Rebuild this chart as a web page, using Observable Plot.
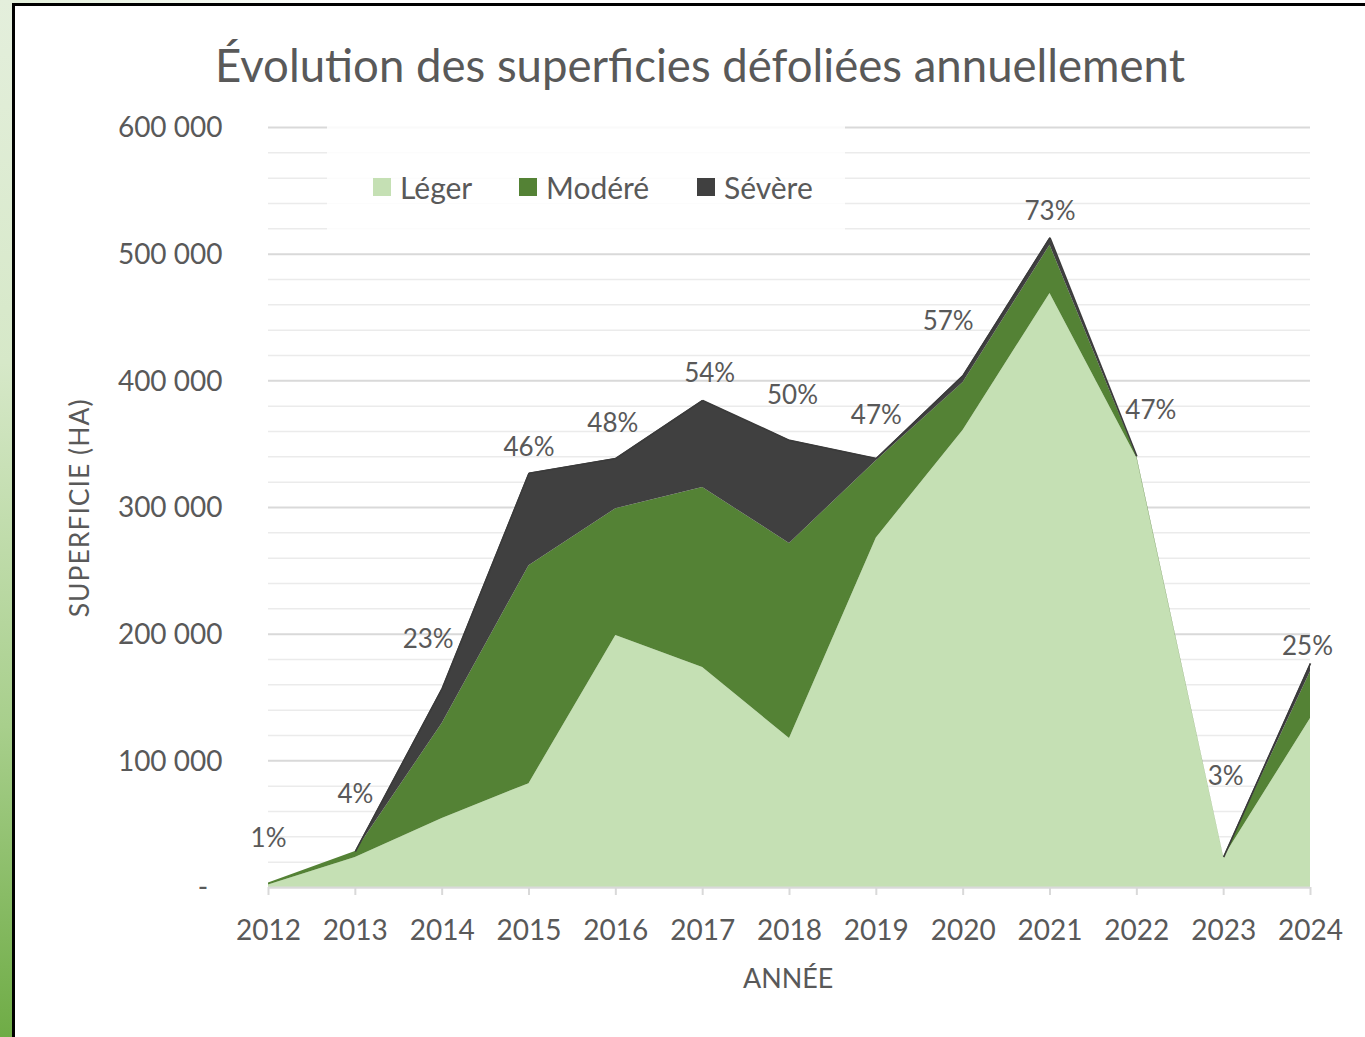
<!DOCTYPE html>
<html>
<head>
<meta charset="utf-8">
<script src="https://cdn.jsdelivr.net/npm/d3@7"></script>
<script src="https://cdn.jsdelivr.net/npm/@observablehq/plot@0.6"></script>
<style>
  body { margin: 0; background: #fff; }
  #wrap { position: relative; width: 1365px; height: 1037px; overflow: hidden; background: #fff;
          font-family: Lato, "Open Sans", sans-serif; color: #595959; }
  #strip { position: absolute; left: 0; top: 0; width: 12px; height: 1037px;
           background: linear-gradient(#e4efdc, #d6e8c8 35%, #a8cf8c 70%, #6fac46); }
  #topstrip { position: absolute; left: 0; top: 0; width: 1365px; height: 4px;
              background: linear-gradient(90deg, #e2efd9, #ffffff 25%); }
  #vline { position: absolute; left: 12px; top: 4px; width: 3px; height: 1033px; background: #000; }
  #hline { position: absolute; left: 12px; top: 3px; width: 1353px; height: 3px; background: #000; }
  #chart { position: absolute; left: 0; top: 0; }
  .lbl { position: absolute; white-space: nowrap; line-height: 1.2; }
  #legendbg { position: absolute; left: 327px; top: 125px; width: 518px; height: 112px; background: rgba(255,255,255,0.85); }
  .item { position: absolute; top: 172px; height: 30px; display: flex; align-items: center;
          font-size: 30px; line-height: 30px; white-space: nowrap; }
  .sw { width: 18px; height: 18px; margin-right: 9px; }
</style>
</head>
<body>
<div id="wrap">
  <div id="chart"></div>
  <div id="legendbg"></div>
  <div id="legend"></div>
  <div id="title" class="lbl">Évolution des superficies défoliées annuellement</div>
  <div id="ylabel" class="lbl">SUPERFICIE (HA)</div>
  <div id="xlabel" class="lbl">ANNÉE</div>
  <div id="topstrip"></div>
  <div id="strip"></div>
  <div id="hline"></div>
  <div id="vline"></div>
</div>
<script>
// ---- Data ----
const years   = [2012, 2013, 2014, 2015, 2016, 2017, 2018, 2019, 2020, 2021, 2022, 2023, 2024];
const leger   = [2000, 23700, 54500, 82000, 199000, 173700, 117600, 276000, 361000, 469000, 339000, 23700, 133400];
const modere  = [1500, 4700, 75000, 172000, 100000, 142100, 154000, 61000, 37700, 38000, 1500, 300, 37000];
const severe  = [0, 0, 27500, 73000, 39700, 68700, 81400, 1700, 5500, 6000, 0, 0, 6500];
const pctLabels = ["1%", "4%", "23%", "46%", "48%", "54%", "50%", "47%", "57%", "73%", "47%", "3%", "25%"];
const types   = ["Léger", "Modéré", "Sévère"];
const colors  = ["#c5e0b4", "#548235", "#404040"];
const yTicks  = [0, 100000, 200000, 300000, 400000, 500000, 600000];

// label nudges (px), style only
const labelDx = [0, 0, -14, 0, -3, 7, 3, 0, -15, 0, 14, 2, -3];
const labelDy = [-44, -57, -49, -26, -35, -27, -45, -43, -54, -26, -46, -80, -17];
// legend item left edges (px), style only
const legendLeft = [373, 519, 697];

// ---- Derived tables ----
const series = [leger, modere, severe];
const rows = [];
types.forEach((t, k) => years.forEach((y, i) => rows.push({year: y, type: t, value: series[k][i]})));
const totals = years.map((y, i) => ({year: y, total: leger[i] + modere[i] + severe[i], label: pctLabels[i], i}));
const segs = [];
for (let i = 0; i < years.length - 1; i++) {
  if (severe[i] > 0 || severe[i + 1] > 0) segs.push({x1: years[i], y1: totals[i].total, x2: years[i + 1], y2: totals[i + 1].total});
}
const minorTicks = d3.range(0, 600001, 20000).filter(v => v % 100000 !== 0);

const fmtY = d => d === 0 ? "-\u00a0\u00a0" : d3.format(",")(d).replace(/,/g, " ");

const chart = Plot.plot({
  width: 1365,
  height: 1037,
  marginLeft: 268,
  marginRight: 55,
  marginTop: 127,
  marginBottom: 150,
  style: {fontFamily: "Lato, 'Open Sans', sans-serif", fontSize: "28px", color: "#595959", background: "transparent", overflow: "visible"},
  x: {domain: [2012, 2024], label: null},
  y: {domain: [0, 600000], label: null},
  color: {domain: types, range: colors},
  marks: [
    Plot.ruleY(minorTicks, {stroke: "#ebebeb", strokeWidth: 1.5}),
    Plot.ruleY(yTicks, {stroke: "#d9d9d9", strokeWidth: 2}),
    Plot.areaY(rows, {x: "year", y: "value", fill: "type", order: types}),
    Plot.link(segs, {x1: "x1", y1: "y1", x2: "x2", y2: "y2", stroke: "#3a3a3a", strokeWidth: 1.6}),
    Plot.ruleY([0], {stroke: "#d9d9d9", strokeWidth: 2}),
    Plot.axisX({ticks: years, tickFormat: "d", tickSize: 8, tickPadding: 25, stroke: "#d9d9d9", strokeWidth: 2, strokeOpacity: 1, fill: "#595959", fontSize: 28, label: null}),
    Plot.axisY({ticks: yTicks, tickFormat: fmtY, tickSize: 0, tickPadding: 46, dy: 1, fill: "#595959", fontSize: 28, label: null}),
    Plot.text(totals, {x: "year", y: "total", text: "label", fill: "#595959", fontSize: 26})
  ]
});
document.getElementById("chart").appendChild(chart);

// apply per-label nudges to the percent labels (last text mark)
{
  const groups = chart.querySelectorAll("g[aria-label='text']");
  const g = groups[groups.length - 1];
  if (g) g.querySelectorAll("text").forEach((t, i) => {
    const tr = t.getAttribute("transform") || "";
    t.setAttribute("transform", tr + ` translate(${labelDx[i]},${labelDy[i]})`);
  });
}

// ---- Legend ----
const leg = document.getElementById("legend");
types.forEach((t, k) => {
  const it = document.createElement("div");
  it.className = "item";
  it.style.left = legendLeft[k] + "px";
  it.innerHTML = `<span class="sw" style="background:${colors[k]}"></span><span>${t}</span>`;
  leg.appendChild(it);
});

// ---- fit HTML text to measured reference sizes ----
function fit(el, target) {
  const w = el.offsetWidth;
  const fs = parseFloat(getComputedStyle(el).fontSize);
  const nfs = fs * target / w;
  el.style.fontSize = nfs + "px";
  return nfs;
}
const title = document.getElementById("title");
title.style.fontSize = "44px";
const tfs = fit(title, 970);
title.style.left = (700 - title.offsetWidth / 2) + "px";
title.style.top = (83 - 0.987 * tfs) + "px";

const xl = document.getElementById("xlabel");
xl.style.fontSize = "26px";
const xfs = fit(xl, 90);
xl.style.left = (788 - xl.offsetWidth / 2) + "px";
xl.style.top = (989 - 0.987 * xfs) + "px";

const yl = document.getElementById("ylabel");
yl.style.fontSize = "24px";
yl.style.letterSpacing = "1px";
fit(yl, 220);
const yw = yl.offsetWidth, yh = yl.offsetHeight;
yl.style.left = (80 - yw / 2) + "px";
yl.style.top = (508 - yh / 2) + "px";
yl.style.transform = "rotate(-90deg)";
</script>
</body>
</html>
